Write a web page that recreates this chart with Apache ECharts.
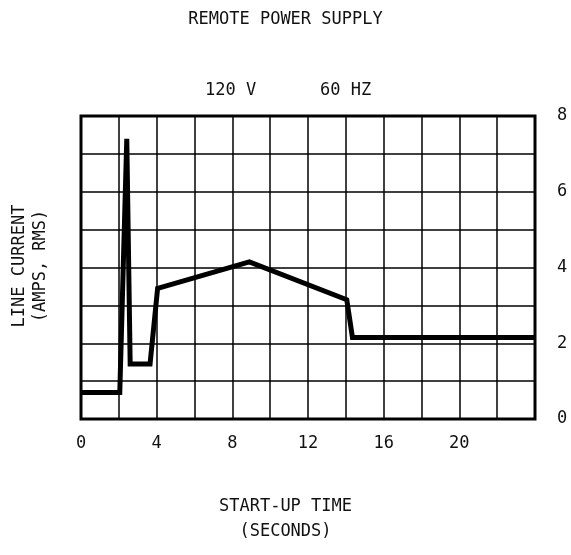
<!DOCTYPE html>
<html>
<head>
<meta charset="utf-8">
<script src="https://cdn.jsdelivr.net/npm/echarts@6/dist/echarts.min.js"></script>
<style>
html,body{margin:0;padding:0;background:#fff;}
#chart{width:571px;height:555px;}
</style>
</head>
<body>
<div id="chart"></div>
<script>
// Data
var titleText = 'REMOTE POWER SUPPLY';
var voltageText = '120 V';
var freqText = '60 HZ';
var xAxisTitle = ['START-UP TIME', '(SECONDS)'];
var yAxisTitle = ['LINE CURRENT', '(AMPS, RMS)'];
var timeSec = [0, 2.05, 2.42, 2.6, 3.65, 4.05, 8.9, 14.05, 14.35, 24];
var ampsRms = [0.7, 0.7, 7.4, 1.45, 1.45, 3.45, 4.15, 3.15, 2.15, 2.15];
var xLabelValues = [0, 4, 8, 12, 16, 20];
var yLabelValues = [0, 2, 4, 6, 8];

var FONT = 'DejaVu Sans Mono';
var pts = timeSec.map(function (t, i) { return [t, ampsRms[i]]; });

var chart = echarts.init(document.getElementById('chart'), null, {renderer: 'canvas'});
chart.setOption({
  backgroundColor: '#fff',
  animation: false,
  title: [
    {text: titleText, left: 'center', top: 6,
     textStyle: {fontFamily: FONT, fontSize: 17, fontWeight: 'normal', color: '#111'}},
    {text: voltageText, left: 200, top: 77,
     textStyle: {fontFamily: FONT, fontSize: 17, fontWeight: 'normal', color: '#111'}},
    {text: freqText, left: 315, top: 77,
     textStyle: {fontFamily: FONT, fontSize: 17, fontWeight: 'normal', color: '#111'}}
  ],
  graphic: [
    {type: 'text', left: 'center', top: 494,
     style: {text: xAxisTitle.join('\n'), fontFamily: FONT, fontSize: 17, fill: '#111',
             textAlign: 'center', lineHeight: 25}},
    {type: 'text', x: 30, y: 266, rotation: Math.PI / 2, originX: 0, originY: 0,
     style: {text: yAxisTitle.join('\n'), fontFamily: FONT, fontSize: 17, fill: '#111',
             textAlign: 'center', textVerticalAlign: 'middle', lineHeight: 21}}
  ],
  grid: {left: 81, right: 36, top: 116, bottom: 136, show: true,
         borderColor: '#000', borderWidth: 3, backgroundColor: 'transparent'},
  xAxis: {
    type: 'value', min: 0, max: 24, interval: 2,
    axisLine: {show: false}, axisTick: {show: false},
    axisLabel: {fontFamily: FONT, fontSize: 17, color: '#111', margin: 16,
      formatter: function (v) { return xLabelValues.indexOf(v) >= 0 ? String(v) : ''; }},
    splitLine: {show: true, lineStyle: {color: '#000', width: 1.5}}
  },
  yAxis: {
    type: 'value', min: 0, max: 8, interval: 1, position: 'right',
    axisLine: {show: false}, axisTick: {show: false},
    axisLabel: {fontFamily: FONT, fontSize: 17, color: '#111', margin: 22,
      formatter: function (v) { return yLabelValues.indexOf(v) >= 0 ? String(v) : ''; }},
    splitLine: {show: true, lineStyle: {color: '#000', width: 1.5}}
  },
  series: [{
    type: 'line', data: pts, showSymbol: false, symbol: 'none',
    lineStyle: {color: '#000', width: 5, join: 'miter', cap: 'butt'},
    z: 5
  }]
});
</script>
</body>
</html>
